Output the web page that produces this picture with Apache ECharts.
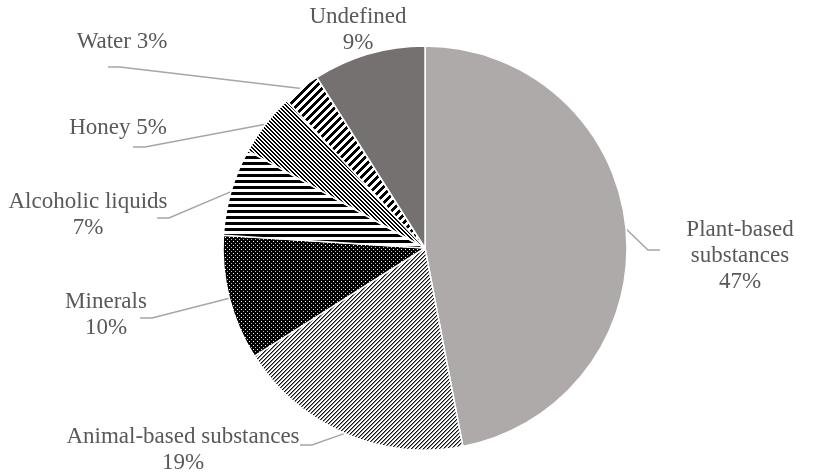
<!DOCTYPE html>
<html>
<head>
<meta charset="utf-8">
<script src="https://cdn.jsdelivr.net/npm/echarts@6/dist/echarts.min.js"></script>
<style>
  html, body { margin: 0; padding: 0; background: #fff; }
  #main { width: 813px; height: 473px; }
</style>
</head>
<body>
<div id="main"></div>
<script>
var names = ['Plant-based substances', 'Animal-based substances', 'Minerals', 'Alcoholic liquids', 'Honey', 'Water', 'Undefined'];
var values = [47, 19, 10, 7, 5, 3, 9];
var labelTexts = ['Plant-based\nsubstances\n47%', 'Animal-based substances\n19%', 'Minerals\n10%', 'Alcoholic liquids\n7%', 'Honey 5%', 'Water 3%', 'Undefined\n9%'];

// label block centres and where each leader line ends
var labelPos = [[740, 256], [183, 450], [106, 315], [88, 215], [118, 128], [122, 42], [358, 30]];
var lineEnd = [[660, 250], [300, 445], [140, 318], [157, 218], [133, 147], [108, 67], null];

// small canvas tiles used as fill patterns
function makeTile(size, paint) {
    var c = document.createElement('canvas');
    c.width = size; c.height = size;
    var ctx = c.getContext('2d');
    ctx.fillStyle = '#fff';
    ctx.fillRect(0, 0, size, size);
    for (var y = 0; y < size; y++) {
        for (var x = 0; x < size; x++) {
            var col = paint(x, y);
            if (col) {
                ctx.fillStyle = col;
                ctx.fillRect(x, y, 1, 1);
            }
        }
    }
    return { image: c, repeat: 'repeat' };
}

var upDiagFine = makeTile(4, function (x, y) {
    var k = (x + y) % 4;
    return k === 3 ? '#111' : (k === 0 ? '#888' : null);
});
var dotsOnBlack = makeTile(4, function (x, y) {
    return (x === 1 && y === 1) ? '#fff' : ((x === 3 && y === 3) ? '#bbb' : '#000');
});
var horizWide = makeTile(6, function (x, y) { return y < 3 ? '#000' : null; });
var downDiag = makeTile(4, function (x, y) { return ((x - y + 8) % 4) < 2 ? '#000' : null; });
var upDiagWide = makeTile(8, function (x, y) { return ((x + y) % 8) < 4 ? '#000' : null; });

var fills = ['#aeaaaa', upDiagFine, dotsOnBlack, horizWide, downDiag, upDiagWide, '#767171'];

var data = names.map(function (n, i) {
    var item = { name: n, value: values[i], itemStyle: { color: fills[i] } };
    if (i === 6) item.labelLine = { show: false };
    return item;
});

var chart = echarts.init(document.getElementById('main'), null, { renderer: 'canvas' });

var option = {
    animation: false,
    series: [{
        type: 'pie',
        center: [425, 248],
        radius: 202,
        startAngle: 90,
        clockwise: true,
        avoidLabelOverlap: false,
        itemStyle: {
            borderColor: '#fff',
            borderWidth: 1.5
        },
        label: {
            show: true,
            position: 'outside',
            formatter: function (p) { return labelTexts[p.dataIndex]; },
            fontFamily: 'Liberation Serif',
            fontSize: 23,
            lineHeight: 26,
            color: '#595959',
            align: 'center'
        },
        labelLine: {
            show: true,
            length: 10,
            length2: 10,
            lineStyle: { color: '#a6a6a6', width: 1.5 }
        },
        labelLayout: function (p) {
            var i = p.dataIndex;
            var pos = labelPos[i];
            var res = {
                x: pos[0],
                y: pos[1],
                align: 'center',
                verticalAlign: 'middle'
            };
            var end = lineEnd[i];
            if (end && p.labelLinePoints) {
                var start = p.labelLinePoints[0];
                var dir = end[0] < start[0] ? 1 : -1;
                res.labelLinePoints = [start, [end[0] + dir * 12, end[1]], end];
            }
            return res;
        },
        data: data
    }]
};

chart.setOption(option);
</script>
</body>
</html>
